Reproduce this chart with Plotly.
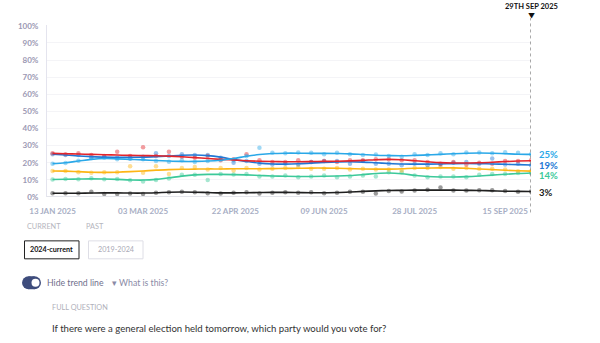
import plotly.graph_objects as go

dates = ["2025-01-13","2025-01-20","2025-01-27","2025-02-03","2025-02-10","2025-02-17","2025-02-24",
         "2025-03-03","2025-03-10","2025-03-17","2025-03-24","2025-03-31","2025-04-07","2025-04-14",
         "2025-04-21","2025-04-28","2025-05-05","2025-05-12","2025-05-19","2025-05-26","2025-06-02",
         "2025-06-09","2025-06-16","2025-06-23","2025-06-30","2025-07-07","2025-07-14","2025-07-21",
         "2025-07-28","2025-08-04","2025-08-11","2025-08-18","2025-08-25","2025-09-01","2025-09-08",
         "2025-09-15","2025-09-22","2025-09-29"]

tick_dates = ["2025-01-13","2025-03-03","2025-04-22","2025-06-09","2025-07-28","2025-09-15"]
tick_text = ["13 JAN 2025","03 MAR 2025","22 APR 2025","09 JUN 2025","28 JUL 2025","15 SEP 2025"]
y_ticks = [0,10,20,30,40,50,60,70,80,90,100]

# poll dots
lightblue_pts = [19.5,19.8,21.2,22.8,23.0,22.0,22.5,22.0,21.0,20.6,21.5,20.5,21.0,21.8,21.5,24.0,28.8,25.8,25.5,26.0,
                 25.8,25.0,25.8,25.0,24.5,24.8,24.0,23.5,25.0,24.5,25.5,25.0,26.0,26.0,25.5,26.2,25.8,25.0]
midblue_pts = [25.0,24.5,24.5,23.0,23.5,23.0,22.5,23.5,25.5,24.0,25.0,24.5,24.5,23.0,20.0,21.0,19.5,19.0,19.5,19.0,
               20.5,21.0,21.0,19.5,21.0,19.5,19.5,18.5,19.5,18.5,19.0,20.0,20.5,19.5,22.5,19.0,19.5,18.5]
red_pts = [25.5,25.0,25.5,24.5,24.0,26.4,24.0,29.0,24.0,26.5,23.5,23.0,24.0,21.5,22.0,25.0,21.5,20.5,20.5,21.5,
           20.5,21.0,20.5,21.5,21.5,22.0,22.0,21.5,21.5,20.5,19.5,20.5,19.0,20.0,19.5,21.0,21.0,21.5]
yellow_pts = [15.2,15.2,14.5,14.2,14.5,14.5,18.0,14.2,18.0,13.5,17.0,17.5,16.0,17.0,15.5,17.0,16.0,16.5,17.0,17.5,
              16.5,16.5,17.0,16.0,16.5,16.0,16.0,15.5,17.0,17.0,17.5,16.5,17.0,16.5,16.5,16.0,15.0,15.0]
teal_pts = [10.2,10.5,10.3,11.0,10.3,10.5,9.8,9.0,10.0,10.8,13.0,13.0,10.0,13.5,13.2,13.5,12.0,12.0,12.5,11.5,
            12.0,12.5,11.5,12.0,12.5,12.0,14.5,14.5,12.5,11.5,12.0,12.0,11.5,13.0,13.5,13.5,14.0,14.0]
black_pts = [2.2,2.2,2.2,3.0,1.8,1.8,2.0,1.8,2.5,2.8,3.0,2.8,2.2,2.0,2.5,2.8,2.0,2.5,2.8,2.5,
             2.8,2.2,2.5,3.0,3.0,2.0,3.5,3.2,3.8,4.2,5.5,3.8,3.8,4.0,4.0,3.5,3.0,3.2]

# trend lines
lightblue_tr = [19.5,20,21,22,22.5,22.3,22,21.7,21.3,21,20.8,20.8,21,21.5,22.5,23.8,24.8,25.4,25.6,25.6,
                25.5,25.5,25.4,25.2,24.8,24.4,24.2,24.1,24.3,24.6,24.9,25.3,25.6,25.7,25.6,25.3,25,24.9]
midblue_tr = [25,24.5,24,23.6,23.3,23.2,23.2,23.3,23.6,24,24.4,24.5,24.2,23.3,22,20.8,19.8,19.3,19.2,19.4,
              19.8,20.2,20.5,20.6,20.4,20,19.6,19.3,19.2,19.2,19.3,19.5,19.6,19.5,19.3,19.1,18.9,18.7]
red_tr = [25.5,25.3,25.1,24.9,24.7,24.5,24.3,24.2,24.1,23.9,23.5,23.0,22.5,22,21.6,21.2,20.9,20.7,20.6,20.6,
          20.7,20.8,20.9,21.1,21.4,21.8,22,21.8,21.2,20.6,20.1,19.9,19.9,20,20.3,20.7,21,21.2]
yellow_tr = [15.2,15.1,14.8,14.5,14.4,14.5,14.8,15.2,15.7,16,16.2,16.3,16.4,16.4,16.5,16.5,16.5,16.6,16.7,16.8,
             16.9,16.9,16.8,16.6,16.4,16.3,16.3,16.5,16.8,16.9,17,17,16.8,16.4,16,15.6,15.3,15.1]
teal_tr = [10.2,10.4,10.5,10.6,10.5,10.3,10,9.9,10.3,11.2,12.2,12.9,13.2,13.2,13.1,12.9,12.6,12.3,12.1,12,
           12,12.1,12.3,12.6,13.1,13.7,14,13.6,12.7,12,11.7,11.7,11.9,12.3,12.8,13.3,13.7,14]
black_tr = [2.2,2.2,2.2,2.3,2.4,2.4,2.3,2.3,2.5,2.8,2.9,2.8,2.6,2.4,2.4,2.5,2.6,2.7,2.7,2.6,
            2.5,2.5,2.6,2.9,3.3,3.6,3.8,3.9,4,4,4,4,3.9,3.8,3.6,3.4,3.3,3.2]

# end labels: text, label position (value), colour
end_labels = [("25%", 24.8, "#2aa8e8"), ("19%", 18.6, "#2277d4"), ("14%", 12.8, "#3cc99a"), ("3%", 2.6, "#1a1a1a")]

series = [
    (black_pts, black_tr, "#1f1f1f"),
    (teal_pts, teal_tr, "#3cc99a"),
    (yellow_pts, yellow_tr, "#fdb515"),
    (midblue_pts, midblue_tr, "#2277d4"),
    (red_pts, red_tr, "#e3242b"),
    (lightblue_pts, lightblue_tr, "#2aa8e8"),
]

fig = go.Figure()
for pts, tr, col in series:
    fig.add_trace(go.Scatter(x=dates, y=pts, mode="markers",
                             marker=dict(color=col, size=4.5, opacity=0.45),
                             hoverinfo="skip", showlegend=False))
for pts, tr, col in series:
    fig.add_trace(go.Scatter(x=dates, y=tr, mode="lines",
                             line=dict(color=col, width=1.6, shape="spline", smoothing=1.0),
                             hoverinfo="skip", showlegend=False))

W, H = 600, 343
L, R, T, B = 47, 69, 25, 145.5

fig.update_layout(
    width=W, height=H, autosize=False,
    margin=dict(l=L, r=R, t=T, b=B, pad=0),
    plot_bgcolor="white", paper_bgcolor="white",
    font=dict(family="Lato, Inter, sans-serif"),
    xaxis=dict(
        type="date", range=["2025-01-10", "2025-09-29"],
        tickvals=tick_dates, ticktext=tick_text,
        tickfont=dict(size=8, color="#a7aec4", family="Lato", weight=700),
        showgrid=False, zeroline=False, showline=False,
        ticks="", ticklabelstandoff=8,
    ),
    yaxis=dict(
        range=[0, 100.5], tickvals=y_ticks,
        ticktext=[f"{v}%" for v in y_ticks],
        tickfont=dict(size=8, color="#9b98b3", family="Lato", weight=700),
        showgrid=True, gridcolor="#f4f4f7", gridwidth=1,
        zeroline=False, showline=True, linecolor="#e4e4ee", linewidth=1,
        ticks="", ticklabelstandoff=6,
    ),
)

pw, ph = W - L - R, H - T - B
def px(x): return (x - L) / pw
def py(y): return (H - B - y) / ph

def note(x, y, text, size, color, anchor="left", weight=None):
    f = dict(size=size, color=color, family="Lato")
    if weight:
        f["weight"] = weight
    fig.add_annotation(xref="paper", yref="paper", x=px(x), y=py(y), text=text, showarrow=False,
                       xanchor=anchor, yanchor="middle", font=f)

# bottom axis band
fig.add_shape(type="line", xref="paper", yref="y", x0=0, x1=1, y0=0, y1=0,
              line=dict(color="#e3e4ea", width=2))

# date marker line
fig.add_shape(type="line", xref="x", yref="paper", x0="2025-09-29", x1="2025-09-29",
              y0=py(213), y1=py(18), line=dict(color="#555", width=1, dash="dot"))
fig.add_annotation(xref="x", yref="paper", x="2025-09-29", y=py(16), text="▼", showarrow=False,
                   yanchor="middle", xanchor="center", font=dict(size=7, color="#111"))
fig.add_annotation(xref="x", yref="paper", x="2025-09-29", y=py(6.5), text="<b>29TH SEP 2025</b>",
                   showarrow=False, yanchor="middle", xanchor="center",
                   font=dict(size=7.5, color="#111", family="Lato"))

for txt, val, col in end_labels:
    fig.add_annotation(xref="paper", yref="y", x=1.012, y=val, text=f"<b>{txt}</b>", showarrow=False,
                       xanchor="left", yanchor="middle", font=dict(size=9.5, color=col, family="Lato"))

# lower UI
note(25, 227, "CURRENT", 7.3, "#b5b5bd")
note(84, 227, "PAST", 7.3, "#b5b5bd")
fig.add_shape(type="rect", xref="paper", yref="paper", x0=px(24.5), x1=px(79), y0=py(259.5), y1=py(241.5),
              line=dict(color="#222", width=1), fillcolor="white")
note(51.7, 250.5, "2024-current", 7.2, "#111", anchor="center", weight=700)
fig.add_shape(type="rect", xref="paper", yref="paper", x0=px(88.5), x1=px(143), y0=py(259.5), y1=py(241.5),
              line=dict(color="#dedee6", width=1), fillcolor="white")
note(115.7, 250.5, "2019-2024", 7.2, "#a9a9b5", anchor="center")

# toggle switch
fig.add_shape(type="rect", xref="paper", yref="paper", x0=px(28.5), x1=px(34.5), y0=py(290), y1=py(277),
              line=dict(width=0), fillcolor="#3e4c7c")
fig.add_shape(type="circle", xref="paper", yref="paper", x0=px(22), x1=px(35), y0=py(290), y1=py(277),
              line=dict(width=0), fillcolor="#3e4c7c")
fig.add_shape(type="circle", xref="paper", yref="paper", x0=px(28), x1=px(41), y0=py(290), y1=py(277),
              line=dict(width=0), fillcolor="#3e4c7c")
fig.add_shape(type="circle", xref="paper", yref="paper", x0=px(31.5), x1=px(39.5), y0=py(287.5), y1=py(279.5),
              line=dict(width=0), fillcolor="white")
note(45, 283.5, "Hide trend line", 8.7, "#6f6f8c")
note(110, 283.5, "▾ What is this?", 8.7, "#8a8aa6")
note(50, 308.5, "FULL QUESTION", 7.3, "#b0b0ba")
note(50, 329, "If there were a general election held tomorrow, which party would you vote for?", 9.6, "#333")

fig.write_html("out.html", config={"displayModeBar": False})
